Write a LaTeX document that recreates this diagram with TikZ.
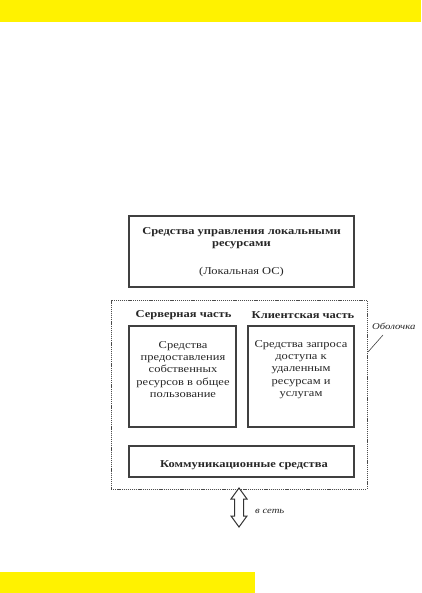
\documentclass[tikz,border=0pt]{standalone}
\usepackage{fontspec}
\setmainfont[FakeStretch=1.19]{Liberation Serif}
\begin{document}
\begin{tikzpicture}[x=1pt,y=-1pt,
  box/.style={draw=black!75, line width=1.1pt, inner sep=0pt},
  shell/.style={draw=black!70, dash pattern=on 1.2pt off 0.9pt, line width=0.8pt, inner sep=0pt},
  txt/.style={inner sep=0pt, align=center, font=\fontsize{10.5}{12.3}\selectfont, text=black!85},
  btxt/.style={txt, font=\fontsize{10.5}{12}\selectfont\bfseries},
  itxt/.style={inner sep=0pt, font=\fontsize{9}{10}\selectfont\itshape, text=black!85}]
\useasboundingbox (0,0) rectangle (421,593);
\fill[yellow] (0,0) rectangle (421,22);
\fill[yellow] (0,572) rectangle (255,593);
% top box
\node[box, minimum width=225pt, minimum height=71pt] (os) at (241.5,251.5) {};
\node[btxt] (ost) at (241.5,238) {Средства управления локальными\\ресурсами};
\node[txt] (osl) at (241.5,272) {(Локальная ОС)};
% shell
\node[shell, minimum width=256pt, minimum height=189pt] (sh) at (239,394.5) {};
\node[btxt] (srvh) at (183.5,315) {Серверная часть};
\node[btxt] (clih) at (303,315) {Клиентская часть};
\node[box, minimum width=107pt, minimum height=101pt] (srv) at (182.5,376.5) {};
\node[box, minimum width=106pt, minimum height=101pt] (cli) at (301,376.5) {};
\node[txt] (srvt) at (183,369.5) {Средства\\предоставления\\собственных\\ресурсов в общее\\пользование};
\node[txt] (clit) at (301,369.5) {Средства запроса\\доступа к\\удаленным\\ресурсам и\\услугам};
\node[box, minimum width=225pt, minimum height=31pt] (com) at (241.5,461.5) {};
\node[btxt] (comt) at (244,465.5) {Коммуникационные средства};
% shell label
\node[itxt, anchor=west] (shl) at (372,326) {Оболочка};
\coordinate (shp) at (368,352);
\draw[black!75, line width=0.6pt] (shp) -- (383,335);
% arrow
\draw[black!80, line width=1pt, fill=white]
  (239,488) -- (247,499) -- (243.5,499) -- (243.5,516) -- (247,516) -- (239,527)
  -- (231,516) -- (234.5,516) -- (234.5,499) -- (231,499) -- cycle;
\node[itxt, anchor=west] (net) at (255,511) {в сеть};
\end{tikzpicture}
\end{document}
